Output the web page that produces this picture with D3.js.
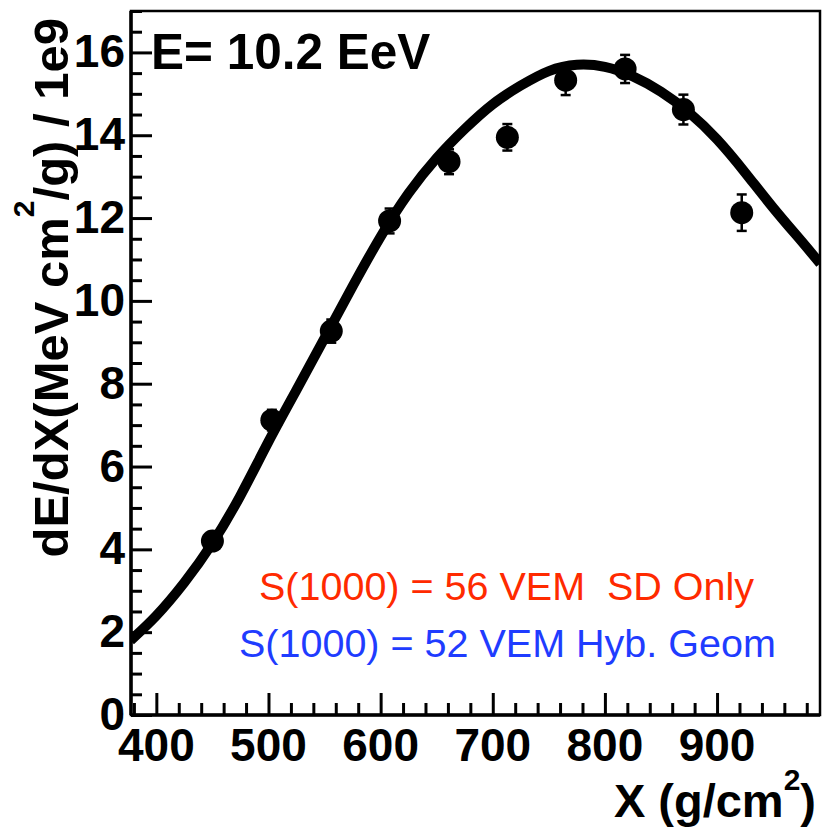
<!DOCTYPE html>
<html>
<head>
<meta charset="utf-8">
<script src="https://cdn.jsdelivr.net/npm/d3@7"></script>
<style>
  html, body { margin: 0; padding: 0; background: #fff; }
  svg text { font-family: "Liberation Sans", Arial, Helvetica, sans-serif; white-space: pre; }
</style>
</head>
<body>
<svg id="chart"></svg>
<script>
// measured points (depth in g/cm2, dE/dX in 1e9 MeV cm2/g)
const pointX = [450, 503, 556, 608, 661, 713, 765, 818, 870, 922];
const pointY = [4.2, 7.12, 9.27, 11.93, 13.36, 13.95, 15.33, 15.6, 14.62, 12.13];
const pointErr = [0.2, 0.25, 0.28, 0.3, 0.3, 0.32, 0.36, 0.34, 0.36, 0.44];

// fitted profile
const fitX = [377, 400, 425, 450, 475, 500, 525, 550, 575, 600, 625, 650, 675, 700, 725, 750, 775, 800, 825, 850, 875, 900, 925, 950, 975, 992];
const fitY = [1.8, 2.4, 3.2, 4.15, 5.3, 6.6, 7.85, 9.1, 10.35, 11.55, 12.6, 13.45, 14.15, 14.75, 15.2, 15.55, 15.7, 15.65, 15.42, 15.05, 14.55, 13.9, 13.1, 12.25, 11.45, 10.9];

const xMajor = [400, 500, 600, 700, 800, 900];
const yMajor = [0, 2, 4, 6, 8, 10, 12, 14, 16];

const W = 827, H = 828;
const m = { left: 131, right: 820, top: 11, bottom: 715 };

const svg = d3.select("#chart").attr("width", W).attr("height", H);

const x = d3.scaleLinear().domain([377.4, 991.8]).range([m.left, m.right]);
const y = d3.scaleLinear().domain([0, 17]).range([m.bottom, m.top]);

// minor ticks
const xMinor = d3.range(380, 992, 20);
const yMinor = d3.range(0, 17.01, 0.5);

svg.append("clipPath").attr("id", "plot")
  .append("rect").attr("x", m.left).attr("y", m.top)
  .attr("width", m.right - m.left).attr("height", m.bottom - m.top);

// frame
svg.append("rect")
  .attr("x", m.left).attr("y", m.top)
  .attr("width", m.right - m.left).attr("height", m.bottom - m.top)
  .attr("fill", "none").attr("stroke", "#000").attr("stroke-width", 2.5);

// x axis ticks
const xAxis = d3.axisBottom(x).tickValues(xMinor).tickSize(-12).tickFormat("");
svg.append("g").attr("transform", `translate(0,${m.bottom})`).call(xAxis)
  .call(g => {
    g.select(".domain").remove();
    g.selectAll(".tick line").attr("stroke-width", 3)
      .attr("y2", d => xMajor.includes(d) ? -22 : -12);
  });

svg.append("g").selectAll("text").data(xMajor).enter().append("text")
  .attr("x", d => x(d)).attr("y", 761)
  .attr("text-anchor", "middle")
  .attr("font-size", 46).attr("font-weight", "bold")
  .text(d => d);

// y axis ticks
const yAxis = d3.axisLeft(y).tickValues(yMinor).tickSize(-11).tickFormat("");
svg.append("g").attr("transform", `translate(${m.left},0)`).call(yAxis)
  .call(g => {
    g.select(".domain").remove();
    g.selectAll(".tick line").attr("stroke-width", 3)
      .attr("x2", d => yMajor.includes(d) ? 21 : 11);
  });

svg.append("g").selectAll("text").data(yMajor).enter().append("text")
  .attr("x", 125).attr("y", d => y(d) + 15)
  .attr("text-anchor", "end")
  .attr("font-size", 46).attr("font-weight", "bold")
  .text(d => d);

// axis lines on top of ticks
svg.append("line").attr("x1", m.left).attr("x2", m.left).attr("y1", m.top).attr("y2", m.bottom)
  .attr("stroke", "#000").attr("stroke-width", 3.5);
svg.append("line").attr("x1", m.left).attr("x2", m.right).attr("y1", m.bottom).attr("y2", m.bottom)
  .attr("stroke", "#000").attr("stroke-width", 3.5);

// axis titles
const xt = svg.append("text")
  .attr("x", 816).attr("y", 817)
  .attr("text-anchor", "end")
  .attr("font-size", 47).attr("font-weight", "bold");
xt.append("tspan").text("X (g/cm");
xt.append("tspan").attr("dy", -27).attr("font-size", 30).text("2");
xt.append("tspan").attr("dy", 27).text(")");

const yt = svg.append("text")
  .attr("transform", "translate(68,18) rotate(-90)")
  .attr("text-anchor", "end")
  .attr("font-size", 49).attr("font-weight", "bold");
yt.append("tspan").text("dE/dX(MeV cm");
yt.append("tspan").attr("dy", -34).attr("font-size", 30).text("2");
yt.append("tspan").attr("dy", 34).text("/g) / 1e9");

// fit curve
const line = d3.line()
  .x((d, i) => x(fitX[i]))
  .y(d => y(d))
  .curve(d3.curveNatural);

svg.append("path")
  .datum(fitY)
  .attr("clip-path", "url(#plot)")
  .attr("fill", "none")
  .attr("stroke", "#000")
  .attr("stroke-width", 10)
  .attr("d", line);

// error bars and markers
const pts = svg.append("g").attr("clip-path", "url(#plot)");
pointX.forEach((px, i) => {
  const cx = x(px);
  const y0 = y(pointY[i] - pointErr[i]), y1 = y(pointY[i] + pointErr[i]);
  pts.append("line").attr("x1", cx).attr("x2", cx).attr("y1", y0).attr("y2", y1)
    .attr("stroke", "#000").attr("stroke-width", 2.5);
  [y0, y1].forEach(yy => {
    pts.append("line").attr("x1", cx - 5).attr("x2", cx + 5).attr("y1", yy).attr("y2", yy)
      .attr("stroke", "#000").attr("stroke-width", 2.5);
  });
  pts.append("circle").attr("cx", cx).attr("cy", y(pointY[i])).attr("r", 11.5).attr("fill", "#000");
});

// labels
svg.append("text")
  .attr("x", 151).attr("y", 69)
  .attr("font-size", 49.5).attr("font-weight", "bold")
  .text("E= 10.2 EeV");

svg.append("text")
  .attr("x", 259).attr("y", 600)
  .attr("font-size", 39.5).attr("fill", "#ff2a00")
  .text("S(1000) = 56 VEM  SD Only");

svg.append("text")
  .attr("x", 239).attr("y", 657)
  .attr("font-size", 39.5).attr("fill", "#1f3cff")
  .text("S(1000) = 52 VEM Hyb. Geom");
</script>
</body>
</html>
